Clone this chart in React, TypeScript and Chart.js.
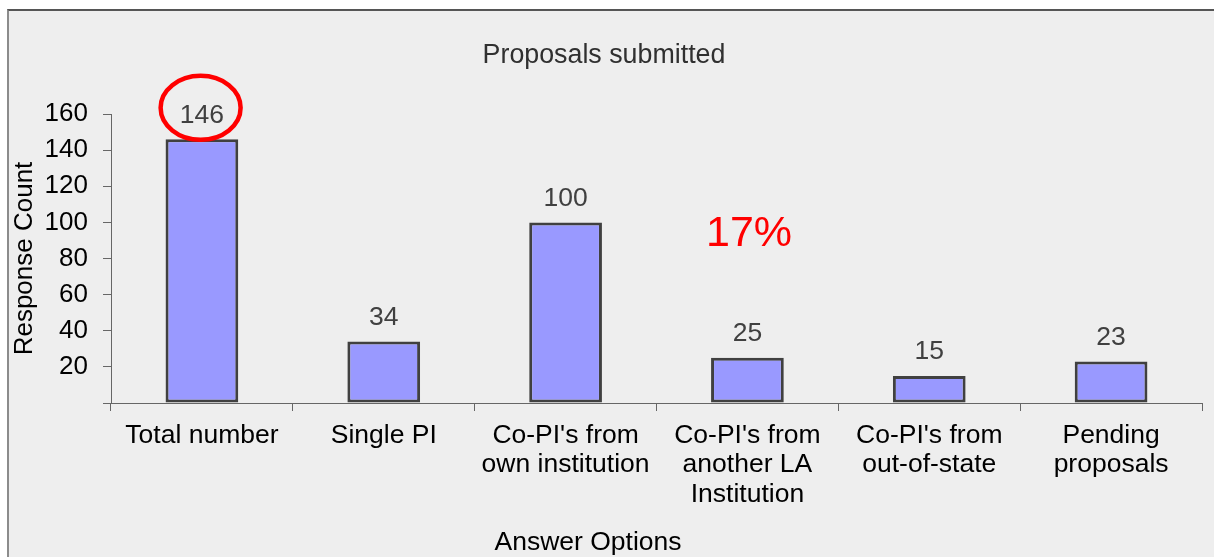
import React, { useEffect, useRef } from "react";
import { Chart, registerables } from "chart.js";

Chart.register(...registerables);

const categories: string[][] = [
  ["Total number"],
  ["Single PI"],
  ["Co-PI's from", "own institution"],
  ["Co-PI's from", "another LA", "Institution"],
  ["Co-PI's from", "out-of-state"],
  ["Pending", "proposals"],
];
const responseCounts: number[] = [146, 34, 100, 25, 15, 23];
const yTickValues: number[] = [0, 20, 40, 60, 80, 100, 120, 140, 160];
const chartTitle = "Proposals submitted";
const xAxisTitle = "Answer Options";
const yAxisTitle = "Response Count";
const highlightText = "17%";
const highlightIndex = 0;

const FONT = "'Liberation Sans', Arial, sans-serif";

const annotationPlugin = {
  id: "annotations",
  afterDatasetsDraw(chart: any) {
    const ctx = chart.ctx;
    const meta = chart.getDatasetMeta(0);
    ctx.save();
    // value labels
    ctx.font = `26.5px ${FONT}`;
    ctx.fillStyle = "#404040";
    ctx.textAlign = "center";
    ctx.textBaseline = "alphabetic";
    meta.data.forEach((bar: any, i: number) => {
      ctx.fillText(String(responseCounts[i]), bar.x, bar.y - 16.5);
    });
    // red ellipse around highlighted value
    const hb = meta.data[highlightIndex];
    ctx.beginPath();
    ctx.ellipse(hb.x - 1.3, hb.y - 31.5, 40, 32, 0, 0, Math.PI * 2);
    ctx.strokeStyle = "#ff0000";
    ctx.lineWidth = 4.5;
    ctx.stroke();
    // chart title
    ctx.font = `26.8px ${FONT}`;
    ctx.fillStyle = "#303030";
    ctx.fillText(chartTitle, 595, 52);
    // x axis title
    ctx.font = `26.5px ${FONT}`;
    ctx.fillStyle = "#000000";
    ctx.fillText(xAxisTitle, 579, 539);
    // 17%
    ctx.font = `43px ${FONT}`;
    ctx.fillStyle = "#ff0000";
    ctx.fillText(highlightText, 740, 234.7);
    ctx.restore();
  },
};

export default function App() {
  const canvasRef = useRef<HTMLCanvasElement | null>(null);

  useEffect(() => {
    const canvas = canvasRef.current;
    if (!canvas) return;
    const chart = new Chart(canvas, {
      type: "bar",
      data: {
        labels: categories,
        datasets: [
          {
            data: responseCounts,
            backgroundColor: "#9999ff",
            borderColor: "#404040",
            borderWidth: 3,
            borderSkipped: false,
            barPercentage: 0.4,
            categoryPercentage: 1,
          },
        ],
      },
      options: {
        responsive: false,
        animation: false,
        devicePixelRatio: 1,
        layout: { padding: { top: 103, right: 12, left: 0, bottom: 0 } },
        plugins: {
          legend: { display: false },
          tooltip: { enabled: false },
          title: { display: false },
        },
        scales: {
          x: {
            offset: true,
            grid: {
              offset: true,
              drawOnChartArea: false,
              drawTicks: true,
              tickLength: 8,
              color: "#666666",
            },
            border: { display: true, color: "#666666", width: 1 },
            ticks: {
              color: "#000000",
              font: { family: FONT, size: 26.5, lineHeight: 1.11 },
              padding: 10,
              maxRotation: 0,
              autoSkip: false,
            },
            afterFit: (scale: any) => {
              scale.height = 154;
            },
          },
          y: {
            min: 0,
            max: 160,
            afterBuildTicks: (scale: any) => {
              scale.ticks = yTickValues.map((v) => ({ value: v }));
            },
            grid: {
              drawOnChartArea: false,
              drawTicks: true,
              tickLength: 8,
              color: "#666666",
            },
            border: { display: true, color: "#666666", width: 1 },
            ticks: {
              color: "#000000",
              font: { family: FONT, size: 26 },
              padding: 15,
              callback: (v: any) => (Number(v) === 0 ? "" : String(v)),
            },
            title: {
              display: true,
              text: yAxisTitle,
              color: "#000000",
              font: { family: FONT, size: 26 },
              padding: 0,
            },
            afterFit: (scale: any) => {
              scale.width = 102;
            },
          },
        },
      },
      plugins: [annotationPlugin],
    });
    return () => chart.destroy();
  }, []);

  return (
    <div
      style={{
        position: "fixed",
        left: 7,
        top: 9,
        width: 1207,
        height: 548,
        boxSizing: "border-box",
        borderLeft: "2px solid #8c8c8c",
        borderTop: "2px solid #555555",
        background: "#eeeeee",
        overflow: "hidden",
      }}
    >
      <canvas ref={canvasRef} width={1205} height={546} style={{ display: "block" }} />
    </div>
  );
}
